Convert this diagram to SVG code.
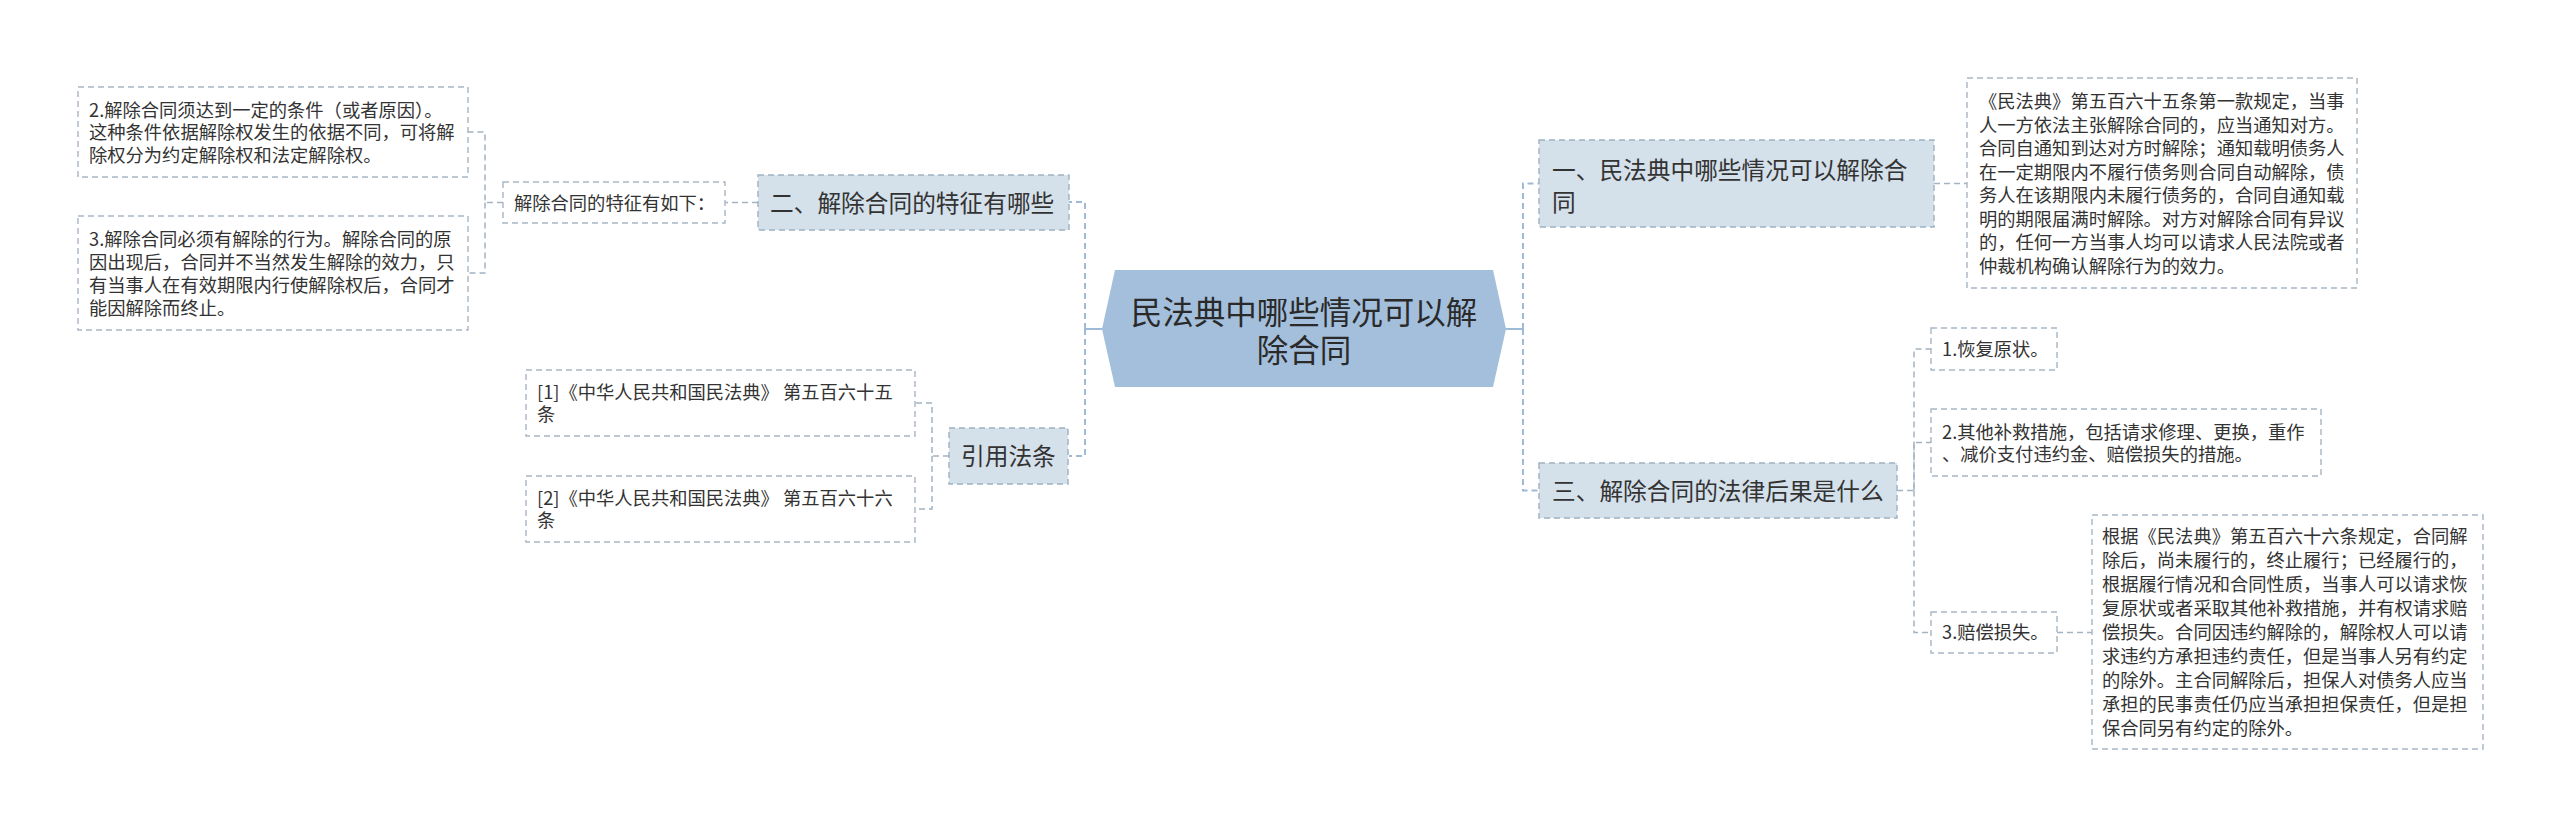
<svg xmlns="http://www.w3.org/2000/svg" width="2560" height="828" viewBox="0 0 2560 828">
<style>
text{font-family:"Noto Sans CJK SC","Noto Sans",sans-serif;fill:#333;}
.t1{font-size:23.7px;}
.t2{font-size:18.3px;}
.tc{font-size:31.5px;fill:#2a2a2a;text-anchor:middle;}
.n1{fill:#d4e0ea;stroke:#9fb1c1;stroke-width:1.4;stroke-dasharray:6 4;}
.n2{fill:#ffffff;stroke:#a8b6c3;stroke-width:1.4;stroke-dasharray:6 4;}
.c{fill:none;stroke:#a3b4c4;stroke-width:1.5;stroke-dasharray:6 4;}
.cm{fill:none;stroke:#9fbad6;stroke-width:2;stroke-dasharray:6 4;}
.cs{fill:none;stroke:#9fbad6;stroke-width:2;}
</style>
<rect width="2560" height="828" fill="#ffffff"/>
<g id="connectors">
<path class="cs" d="M1102,329 H1085"/>
<path class="cm" d="M1085,329 V202 H1069"/>
<path class="cm" d="M1085,329 V456 H1069"/>
<path class="c" d="M758,202.5 H725"/>
<path class="c" d="M503,202.5 H485 V132 H468"/>
<path class="c" d="M485,202.5 V273 H468"/>
<path class="c" d="M949,456 H932 V403 H915"/>
<path class="c" d="M932,456 V509 H915"/>
<path class="cs" d="M1506,329 H1523"/>
<path class="cm" d="M1523,329 V183.5 H1539"/>
<path class="cm" d="M1523,329 V490.5 H1539"/>
<path class="c" d="M1934,183.5 H1967"/>
<path class="c" d="M1897,490.5 H1914 V349 H1931"/>
<path class="c" d="M1914,490.5 V442.5 H1931"/>
<path class="c" d="M1914,490.5 V632.5 H1931"/>
<path class="c" d="M2057,632.5 H2092"/>
</g>
<g id="root">
<polygon points="1102,329 1115,270 1493,270 1506,329 1493,387 1115,387" fill="#a3bfdb"/>
<text class="tc" x="1304" y="324">民法典中哪些情况可以解</text>
<text class="tc" x="1304" y="362">除合同</text>
</g>
<g id="n-er">
<rect class="n1" x="758" y="175" width="311" height="55"/>
<text class="t1" x="770" y="211.5">二、解除合同的特征有哪些</text>
</g>
<g id="n-tezheng">
<rect class="n2" x="503" y="182" width="222" height="41"/>
<text class="t2" x="514" y="209.5">解除合同的特征有如下：</text>
</g>
<g id="n-cond2">
<rect class="n2" x="78" y="87" width="390" height="90"/>
<text class="t2" x="89" y="116.5">2.解除合同须达到一定的条件（或者原因）。</text>
<text class="t2" x="89" y="139">这种条件依据解除权发生的依据不同，可将解</text>
<text class="t2" x="89" y="161.5">除权分为约定解除权和法定解除权。</text>
</g>
<g id="n-cond3">
<rect class="n2" x="78" y="216" width="390" height="114"/>
<text class="t2" x="89" y="245.5">3.解除合同必须有解除的行为。解除合同的原</text>
<text class="t2" x="89" y="268.5">因出现后，合同并不当然发生解除的效力，只</text>
<text class="t2" x="89" y="291.5">有当事人在有效期限内行使解除权后，合同才</text>
<text class="t2" x="89" y="314.5">能因解除而终止。</text>
</g>
<g id="n-yinyong">
<rect class="n1" x="949" y="428" width="119" height="56"/>
<text class="t1" x="961" y="465">引用法条</text>
</g>
<g id="n-ref1">
<rect class="n2" x="526" y="370" width="389" height="66"/>
<text class="t2" x="537" y="399">[1]《中华人民共和国民法典》 第五百六十五</text>
<text class="t2" x="537" y="421">条</text>
</g>
<g id="n-ref2">
<rect class="n2" x="526" y="476" width="389" height="66"/>
<text class="t2" x="537" y="505">[2]《中华人民共和国民法典》 第五百六十六</text>
<text class="t2" x="537" y="527">条</text>
</g>
<g id="n-yi">
<rect class="n1" x="1539" y="140" width="395" height="87"/>
<text class="t1" x="1552" y="179">一、民法典中哪些情况可以解除合</text>
<text class="t1" x="1552" y="211">同</text>
</g>
<g id="n-yi-detail">
<rect class="n2" x="1967" y="78" width="390" height="210"/>
<text class="t2" x="1979" y="108">《民法典》第五百六十五条第一款规定，当事</text>
<text class="t2" x="1979" y="131.5">人一方依法主张解除合同的，应当通知对方。</text>
<text class="t2" x="1979" y="155">合同自通知到达对方时解除；通知载明债务人</text>
<text class="t2" x="1979" y="178.5">在一定期限内不履行债务则合同自动解除，债</text>
<text class="t2" x="1979" y="202">务人在该期限内未履行债务的，合同自通知载</text>
<text class="t2" x="1979" y="225.5">明的期限届满时解除。对方对解除合同有异议</text>
<text class="t2" x="1979" y="249">的，任何一方当事人均可以请求人民法院或者</text>
<text class="t2" x="1979" y="272.5">仲裁机构确认解除行为的效力。</text>
</g>
<g id="n-san">
<rect class="n1" x="1539" y="463" width="358" height="55"/>
<text class="t1" x="1552" y="499.5">三、解除合同的法律后果是什么</text>
</g>
<g id="n-hf1">
<rect class="n2" x="1931" y="328" width="126" height="42"/>
<text class="t2" x="1942" y="355.5">1.恢复原状。</text>
</g>
<g id="n-hf2">
<rect class="n2" x="1931" y="409" width="390" height="67"/>
<text class="t2" x="1942" y="438.5">2.其他补救措施，包括请求修理、更换，重作</text>
<text class="t2" x="1942" y="460.5">、减价支付违约金、赔偿损失的措施。</text>
</g>
<g id="n-hf3">
<rect class="n2" x="1931" y="612" width="126" height="41"/>
<text class="t2" x="1942" y="639">3.赔偿损失。</text>
</g>
<g id="n-hf3-detail">
<rect class="n2" x="2092" y="515" width="391" height="234"/>
<text class="t2" x="2102" y="543">根据《民法典》第五百六十六条规定，合同解</text>
<text class="t2" x="2102" y="567">除后，尚未履行的，终止履行；已经履行的，</text>
<text class="t2" x="2102" y="591">根据履行情况和合同性质，当事人可以请求恢</text>
<text class="t2" x="2102" y="615">复原状或者采取其他补救措施，并有权请求赔</text>
<text class="t2" x="2102" y="639">偿损失。合同因违约解除的，解除权人可以请</text>
<text class="t2" x="2102" y="663">求违约方承担违约责任，但是当事人另有约定</text>
<text class="t2" x="2102" y="687">的除外。主合同解除后，担保人对债务人应当</text>
<text class="t2" x="2102" y="711">承担的民事责任仍应当承担担保责任，但是担</text>
<text class="t2" x="2102" y="735">保合同另有约定的除外。</text>
</g>
</svg>
